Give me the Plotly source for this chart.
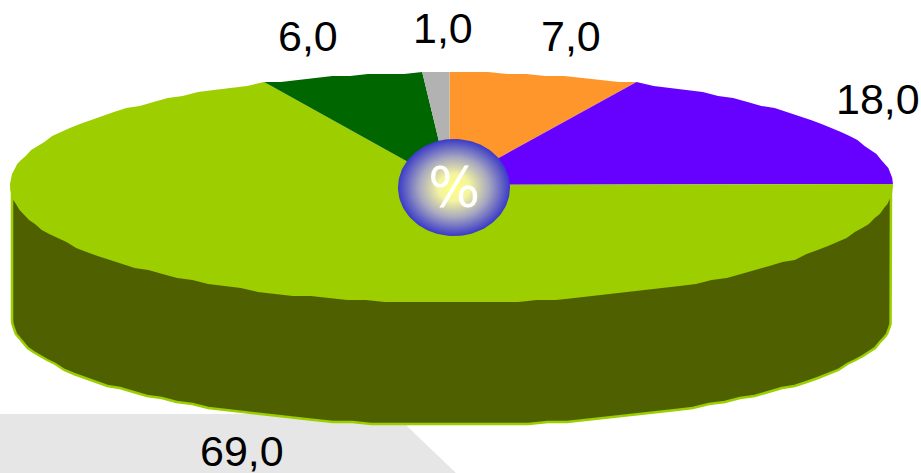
import numpy as np
import plotly.graph_objects as go

# Data, clockwise from 12 o'clock
categories = ["orange", "purple", "green", "darkgreen", "grey"]
values = [7.0, 18.0, 69.0, 6.0, 1.0]
slice_colors = ["#FF962C", "#6600FF", "#9CCE00", "#006600", "#B2B2B2"]
label_xy = [(571, 36), (878, 99), (242, 451), (307.5, 36), (443, 28)]

W, H = 921, 473
CX, CY = 449.5, 185.0
RX_L, RX_R = 439.5, 443.5
RY_BACK, RY_FRONT = 112.5, 118.0
SIDE_CY, SIDE_RY = 319.0, 106.0
TXT = "Liberation Sans, Arial, sans-serif"
GRID = 2.0  # the outline of the source is visibly stepped


def snap(a):
    return np.round(np.asarray(a) / GRID) * GRID


def rim(theta):
    """theta: radians clockwise from 12 o'clock."""
    s, c = np.sin(theta), np.cos(theta)
    ry = np.where(c >= 0, RY_BACK, RY_FRONT)
    rx = np.where(s >= 0, RX_R, RX_L)
    return CX + rx * s, snap(CY - ry * c)


fig = go.Figure()

# Side wall, from the right extreme round the front to the left extreme
t = np.linspace(np.pi / 2, -np.pi / 2, 71)
s = np.sin(t)
sx = CX + np.where(s >= 0, RX_R - 2, RX_L - 2) * s
side_x = np.concatenate([[sx[0]], sx, [sx[-1]]])
side_y = np.concatenate([[CY], snap(SIDE_CY + SIDE_RY * np.abs(np.cos(t))), [CY]])
fig.add_trace(go.Scatter(x=side_x, y=side_y, mode="lines", fill="toself",
                         fillcolor="#4F6000",
                         line=dict(color="#9CCE00", width=2.5),
                         hoverinfo="skip", showlegend=False))

# Top face slices
total = sum(values)
edges = np.concatenate([[0], np.cumsum(values)]) / total * 2 * np.pi
for name, a, b, col in zip(categories, edges[:-1], edges[1:], slice_colors):
    n = max(2, int(np.ceil((b - a) / np.radians(2.5))) + 1)
    th = np.linspace(a, b, n)
    px, py = rim(th)
    fig.add_trace(go.Scatter(x=np.r_[CX, px, CX], y=np.r_[CY, py, CY],
                             mode="lines", fill="toself", fillcolor=col,
                             line=dict(width=0, color=col), name=name,
                             hoverinfo="skip", showlegend=False))

# Centre badge
th = np.linspace(0, 2 * np.pi, 121)
fig.add_trace(go.Scatter(
    x=454 + 56 * np.cos(th), y=187.5 + 48.5 * np.sin(th),
    mode="lines", line=dict(width=0), fill="toself",
    fillgradient=dict(type="radial",
                      colorscale=[[0, "#FFFF80"], [0.28, "#F4F4A0"], [0.62, "#A8A8C0"], [1, "#3A3AC8"]]),
    hoverinfo="skip", showlegend=False))

annotations = [
    dict(x=x, y=y, text=f"{v:.1f}".replace(".", ","), showarrow=False,
         xref="x", yref="y", xanchor="center", yanchor="middle",
         font=dict(family=TXT, size=43, color="#000000"))
    for v, (x, y) in zip(values, label_xy)
]
annotations.append(dict(x=454, y=187, text="%", showarrow=False, xref="x", yref="y",
                        xanchor="center", yanchor="middle",
                        font=dict(family="DejaVu Sans", size=55, color="#FFFFFF")))

fig.update_layout(
    width=W, height=H, autosize=False,
    margin=dict(l=0, r=0, t=0, b=0),
    paper_bgcolor="#FFFFFF", plot_bgcolor="#FFFFFF",
    xaxis=dict(range=[0, W], visible=False, fixedrange=True),
    yaxis=dict(range=[H, 0], visible=False, fixedrange=True),
    showlegend=False,
    annotations=annotations,
    shapes=[dict(type="path", layer="below", xref="x", yref="y",
                 path="M0,414 L398,414 L408,427 L456,473 L0,473 Z",
                 fillcolor="#E6E6E6", line=dict(width=0))],
)
fig.write_html("out.html", config=dict(displayModeBar=False),
               post_script="document.body.style.margin='0';document.body.style.overflow='hidden';")
